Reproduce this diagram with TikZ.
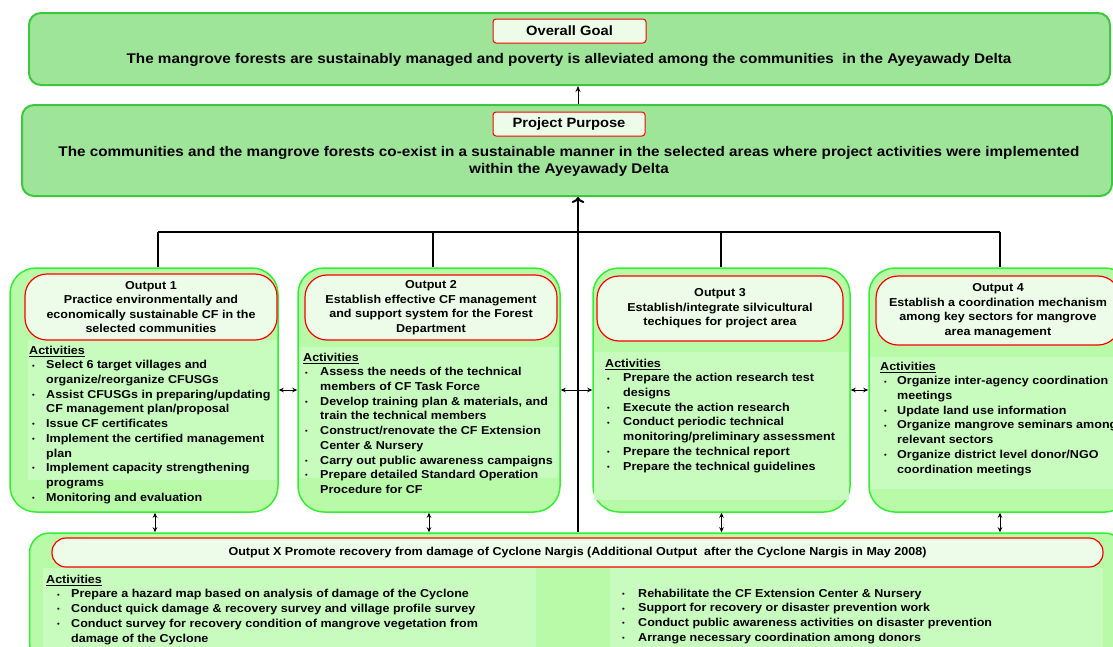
\documentclass[tikz,border=0pt]{standalone}
\usepackage{fontspec}
\setmainfont{Liberation Sans}[FakeStretch=1.09]
\usetikzlibrary{arrows.meta}

\definecolor{goalfill}{RGB}{158,229,154}
\definecolor{goaldraw}{RGB}{60,200,60}
\definecolor{outfill}{RGB}{184,250,168}
\definecolor{outdraw}{RGB}{50,240,50}
\definecolor{actfill}{RGB}{200,252,190}
\definecolor{headfill}{RGB}{236,252,232}

\newcommand\bul{\raisebox{0.8pt}{\fontsize{7}{7}\selectfont\textbullet}}

\tikzset{
  goalbox/.style={draw=goaldraw, fill=goalfill, line width=2pt, rounded corners=12pt, inner sep=0pt},
  outbox/.style={draw=outdraw, fill=outfill, line width=1.5pt, rounded corners=26pt, inner sep=0pt},
  headbox/.style={draw=red, fill=headfill, line width=1.2pt, rounded corners=22pt, inner sep=0pt,
    font=\fontsize{11.5}{14.6}\selectfont\bfseries, align=center},
  tagbox/.style={draw=red, fill=headfill, line width=1pt, rounded corners=3pt, inner sep=0pt,
    font=\fontsize{13.5}{15}\selectfont\bfseries},
  bigtext/.style={font=\fontsize{14}{17}\selectfont\bfseries, align=center, inner sep=0pt},
  acttext/.style={font=\fontsize{11.5}{14.7}\selectfont\bfseries, anchor=north west, inner sep=0pt},
  link/.style={line width=1.5pt},
  pair/.style={{Stealth[length=5pt,width=4.5pt]}-{Stealth[length=5pt,width=4.5pt]}, line width=0.7pt},
}

\begin{document}
\begin{tikzpicture}[x=1pt, y=-1pt]
  \useasboundingbox (0,0) rectangle (1113,646);

  % goal and purpose
  \node[goalbox, minimum width=1081, minimum height=72] (goal) at (569.5,49) {};
  \node[tagbox, minimum width=153, minimum height=24] (goaltag) at (569.5,31) {Overall Goal};
  \node[bigtext] (goaltext) at (569,60) {The mangrove forests are sustainably managed and poverty is alleviated among the communities \ in the Ayeyawady Delta};

  \node[goalbox, minimum width=1090, minimum height=91] (purpose) at (567,150.5) {};
  \node[tagbox, minimum width=152, minimum height=24] (purposetag) at (569,124) {Project Purpose};
  \node[bigtext] (purposetext) at (569,161.5) {The communities and the mangrove forests co-exist in a sustainable manner in the selected areas where project activities were implemented\\within the Ayeyawady Delta};

  % outputs
  \node[outbox, minimum width=268, minimum height=244] (out1) at (144,390) {};
  \node[outbox, minimum width=262, minimum height=244] (out2) at (429,390) {};
  \node[outbox, minimum width=257, minimum height=244] (out3) at (721.5,390) {};
  \node[outbox, minimum width=262, minimum height=244] (out4) at (1000,390) {};

  \fill[actfill] (28,340) rectangle (277,480);
  \fill[actfill] (299,347) rectangle (559,478);
  \fill[actfill] (594,352) rectangle (849,500);
  \fill[actfill] (870,357) rectangle (1113,489);

  \node[headbox, minimum width=252, minimum height=66] (head1) at (151,307) {Output 1\\Practice environmentally and\\economically sustainable CF in the\\selected communities};
  \node[headbox, minimum width=252, minimum height=65] (head2) at (431,307.5) {Output 2\\Establish effective CF management\\and support system for the Forest\\Department};
  \node[headbox, minimum width=246, minimum height=65] (head3) at (720,308.5) {Output 3\\Establish/integrate silvicultural\\techiques for project area};
  \node[headbox, minimum width=244, minimum height=69] (head4) at (998,310.5) {Output 4\\Establish a coordination mechanism\\among key sectors for mangrove\\area management};

  \node[acttext] (act1) at (29,343.7) {\begin{tabular}{@{\hspace{3pt}}p{14pt}@{}l@{}}
    \multicolumn{2}{@{}l@{}}{\underline{Activities}}\\
    \bul & Select 6 target villages and\\
         & organize/reorganize CFUSGs\\
    \bul & Assist CFUSGs in preparing/updating\\
         & CF management plan/proposal\\
    \bul & Issue CF certificates\\
    \bul & Implement the certified management\\
         & plan\\
    \bul & Implement capacity strengthening\\
         & programs\\
    \bul & Monitoring and evaluation
  \end{tabular}};
  \node[acttext] (act2) at (303,350.7) {\begin{tabular}{@{\hspace{2pt}}p{15pt}@{}l@{}}
    \multicolumn{2}{@{}l@{}}{\underline{Activities}}\\
    \bul & Assess the needs of the technical\\
         & members of CF Task Force\\
    \bul & Develop training plan \& materials, and\\
         & train the technical members\\
    \bul & Construct/renovate the CF Extension\\
         & Center \& Nursery\\
    \bul & Carry out public awareness campaigns\\
    \bul & Prepare detailed Standard Operation\\
         & Procedure for CF
  \end{tabular}};
  \node[acttext] (act3) at (605,356.7) {\begin{tabular}{@{\hspace{2pt}}p{16pt}@{}l@{}}
    \multicolumn{2}{@{}l@{}}{\underline{Activities}}\\
    \bul & Prepare the action research test\\
         & designs\\
    \bul & Execute the action research\\
    \bul & Conduct periodic technical\\
         & monitoring/preliminary assessment\\
    \bul & Prepare the technical report\\
    \bul & Prepare the technical guidelines
  \end{tabular}};
  \node[acttext] (act4) at (880,359.7) {\begin{tabular}{@{\hspace{4pt}}p{13pt}@{}l@{}}
    \multicolumn{2}{@{}l@{}}{\underline{Activities}}\\
    \bul & Organize inter-agency coordination\\
         & meetings\\
    \bul & Update land use information\\
    \bul & Organize mangrove seminars among\\
         & relevant sectors\\
    \bul & Organize district level donor/NGO\\
         & coordination meetings
  \end{tabular}};

  % output X
  \node[outbox, rounded corners=20pt, minimum width=1095, minimum height=130] (outx) at (577,598) {};
  \fill[actfill] (43,568) rectangle (536,650);
  \fill[actfill] (610,568) rectangle (1103,650);
  \node[headbox, rounded corners=14pt, minimum width=1051, minimum height=29] (headx) at (577.5,552.5) {Output X Promote recovery from damage of Cyclone Nargis (Additional Output \ after the Cyclone Nargis in May 2008)};
  \node[acttext] (actx) at (46,572.7) {\begin{tabular}{@{\hspace{11pt}}p{14pt}@{}l@{}}
    \multicolumn{2}{@{}l@{}}{\underline{Activities}}\\
    \bul & Prepare a hazard map based on analysis of damage of the Cyclone\\
    \bul & Conduct quick damage \& recovery survey and village profile survey\\
    \bul & Conduct survey for recovery condition of mangrove vegetation from\\
         & damage of the Cyclone
  \end{tabular}};
  \node[acttext] (acty) at (622,586.7) {\begin{tabular}{@{}p{16pt}@{}l@{}}
    \bul & Rehabilitate the CF Extension Center \& Nursery\\
    \bul & Support for recovery or disaster prevention work\\
    \bul & Conduct public awareness activities on disaster prevention\\
    \bul & Arrange necessary coordination among donors
  \end{tabular}};

  % connectors
  \coordinate (hub) at (578,232);
  \coordinate (t1) at (158,232);
  \coordinate (t2) at (433,232);
  \coordinate (t3) at (721,232);
  \coordinate (t4) at (1000,232);
  \draw[-{Stealth[length=6pt,width=5pt]}, line width=0.7pt] (hub |- purpose.north) -- (hub |- goal.south);
  \draw[->, line width=2pt] (hub) -- (hub |- purpose.south);
  \draw[line width=2pt] (hub) -- (hub |- outx.north);
  \draw[link] (t1) -- (t4);
  \foreach \i in {1,...,4}
    \draw[link] (t\i) -- (t\i |- out\i.north);
  \draw[pair] (out1) -- (out2);
  \draw[pair] (out2) -- (out3);
  \draw[pair] (out3) -- (out4);
  \draw[pair] ([xshift=11pt]out1.south) -- ([xshift=11pt]out1.south |- outx.north);
  \draw[pair] (out2.south) -- (out2.south |- outx.north);
  \draw[pair] (out3.south) -- (out3.south |- outx.north);
  \draw[pair] (out4.south) -- (out4.south |- outx.north);
\end{tikzpicture}
\end{document}
